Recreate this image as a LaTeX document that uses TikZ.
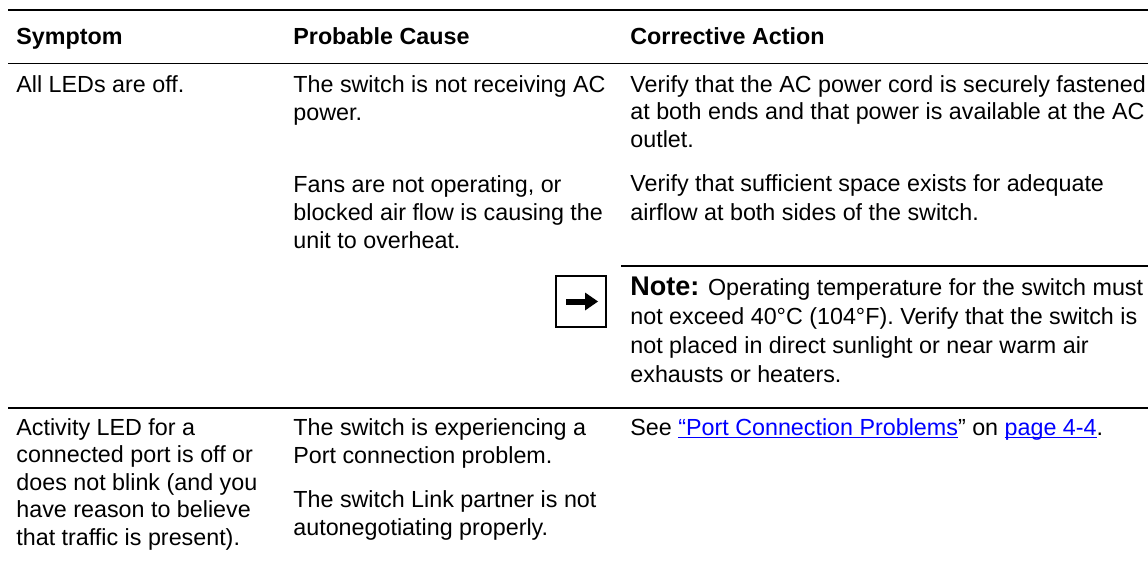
\documentclass[tikz,border=0pt]{standalone}
\usepackage{fontspec}
\setmainfont{Liberation Sans}
\definecolor{linkblue}{RGB}{0,0,255}
\newcommand{\cellfont}{\fontsize{11.65}{14}\selectfont}
\newcommand{\notefont}{\fontsize{11.65}{14.5}\selectfont}
\newcommand{\notelabel}{\fontsize{13.5}{14.5}\selectfont\bfseries}
\newcommand{\linkref}[1]{{\color{linkblue}\underline{\smash{#1}}}}

\begin{document}
\begin{tikzpicture}[x=0.5pt, y=-0.5pt,
    cell/.style={anchor=base west, align=left, inner sep=0pt, font=\cellfont},
    head/.style={cell, font=\cellfont\bfseries},
    rule/.style={line width=0.55pt}]
    \useasboundingbox (0,0) rectangle (1148,562);
    % (cells are placed at the baseline of their last line)

    % Header
    \draw[rule] (8,10) -- (1148,10);
    \node[head] (hsym) at (16,44) {Symptom};
    \node[head] (hcause) at (293,44) {Probable Cause};
    \node[head] (haction) at (630,44) {Corrective Action};
    \draw[rule] (8,63.5) -- (1148,63.5);

    % All LEDs are off
    \node[cell] (sym1) at (16,92) {All LEDs are off.};
    \node[cell] (cause1) at (293,120) {The switch is not receiving AC\\power.};
    \node[cell] (act1) at (630,148) {Verify that the AC power cord is securely fastened\\at both ends and that power is available at the AC\\outlet.};
    \node[cell] (cause2) at (293,248) {Fans are not operating, or\\blocked air flow is causing the\\unit to overheat.};
    \node[cell] (act2) at (630,220) {Verify that sufficient space exists for adequate\\airflow at both sides of the switch.};

    % Note
    \draw[rule] (621,266) -- (1148,266);
    \node[draw, line width=1pt, minimum width=25pt, minimum height=25.5pt, inner sep=0pt] (noteicon) at (581,301.5) {};
    \fill (566,298.5) rectangle (586,304.5);
    \fill (585,292.5) -- (598,301.5) -- (585,310.5) -- cycle;
    \node[cell, font=\notefont] (note) at (630,382.5) {{\notelabel Note:} Operating temperature for the switch must\\not exceed 40°C (104°F). Verify that the switch is\\not placed in direct sunlight or near warm air\\exhausts or heaters.};

    % Activity LED
    \draw[rule] (8,408) -- (1148,408);
    \node[cell, font=\fontsize{11.65}{13.75}\selectfont] (sym3) at (16,545) {Activity LED for a\\connected port is off or\\does not blink (and you\\have reason to believe\\that traffic is present).};
    \node[cell] (cause3) at (293,463) {The switch is experiencing a\\Port connection problem.};
    \node[cell] (cause4) at (293,535) {The switch Link partner is not\\autonegotiating properly.};
    \node[cell] (act3) at (630,435) {See \linkref{“Port Connection Problems}” on \linkref{page 4-4}.};
\end{tikzpicture}
\end{document}
